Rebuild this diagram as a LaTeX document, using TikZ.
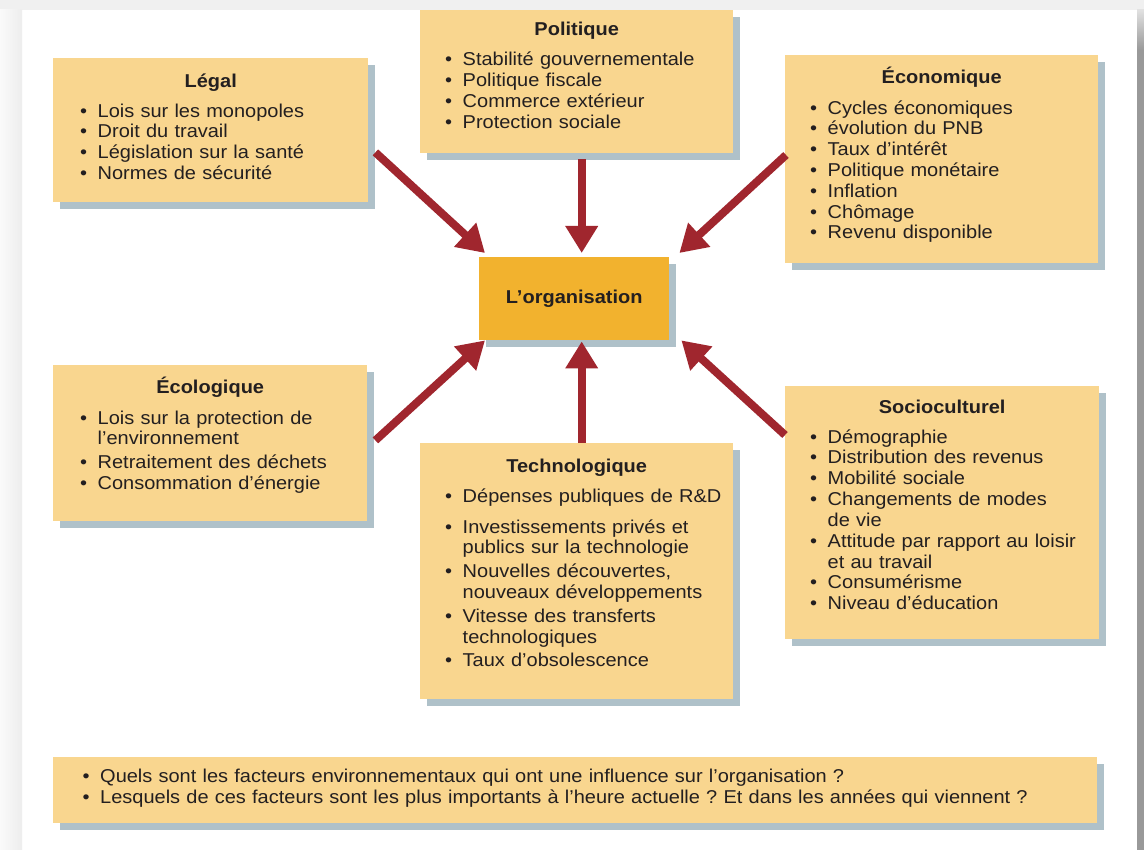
\documentclass[tikz,border=0pt]{standalone}
\usepackage{fontspec}
\setmainfont{Liberation Sans}[FakeStretch=1.075]
\usetikzlibrary{arrows.meta,calc,shadows}
\frenchspacing
\definecolor{boxc}{HTML}{F9D68F}
\definecolor{orgc}{HTML}{F2B22E}
\definecolor{shadc}{HTML}{AFC1C9}
\definecolor{arrc}{HTML}{A0262E}
\definecolor{txtc}{HTML}{231F20}
\newlength\itmind
\newcommand\itm[2][0pt]{\ifdim#1>0pt\vspace{#1}\fi{\leftskip=\itmind\relax\parindent=0pt\noindent\llap{\textbullet\hspace{10.5pt}}#2\par}}
\newcommand\ttl[1]{{\centering\bfseries #1\par}}
\tikzset{
  facbox/.style={anchor=north west, inner sep=0pt, fill=boxc, text=txtc,
    font=\fontsize{18.6}{20.8}\selectfont\frenchspacing,
    drop shadow={shadow xshift=7pt, shadow yshift=-7pt, fill=shadc, opacity=1}},
  orgbox/.style={anchor=north west, inner sep=0pt, fill=orgc, text=txtc,
    minimum width=190pt, minimum height=83pt,
    font=\fontsize{18.6}{20.8}\selectfont\bfseries,
    drop shadow={shadow xshift=7pt, shadow yshift=-7pt, fill=shadc, opacity=1}},
  arr/.style={draw=arrc, line width=8pt, -{Triangle[length=27pt, width=31pt]}}
}
\begin{document}
\begin{tikzpicture}[x=1pt,y=-1pt]
\useasboundingbox (0,0) rectangle (1144,850);
\fill[white] (0,0) rectangle (1144,850);
\fill[black!6] (0,0) rectangle (1144,10);
\shade[left color=black!2, right color=black!7] (0,10) rectangle (22,850);
\shade[top color=black!12, bottom color=black!40] (1137,10) rectangle (1144,50);
\fill[black!40] (1137,50) rectangle (1144,850);

\node[facbox, text width=315pt, text height=29.5pt, text depth=114.5pt] (legal) at (53,58)
  {\setlength\itmind{44.5pt}\ttl{Légal}%
   \itm[8.7pt]{Lois sur les monopoles}\itm{Droit du travail}%
   \itm{Législation sur la santé}\itm{Normes de sécurité}};

\node[facbox, text width=313pt, text height=25pt, text depth=118pt] (pol) at (420,10)
  {\setlength\itmind{42.5pt}\ttl{Politique}%
   \itm[9.9pt]{Stabilité gouvernementale}\itm{Politique fiscale}%
   \itm{Commerce extérieur}\itm{Protection sociale}};

\node[facbox, text width=313pt, text height=28.3pt, text depth=179.7pt] (eco) at (785,55)
  {\setlength\itmind{42.5pt}\ttl{Économique}%
   \itm[9.9pt]{Cycles économiques}\itm{évolution du PNB}%
   \itm{Taux d’intérêt}\itm{Politique monétaire}\itm{Inflation}%
   \itm{Chômage}\itm{Revenu disponible}};

\node[orgbox] (org) at (479,257) {L’organisation};

\node[facbox, text width=314pt, text height=28.3pt, text depth=127.7pt] (ecol) at (53,365)
  {\setlength\itmind{44.5pt}\ttl{Écologique}%
   \itm[9.9pt]{Lois sur la protection de\newline l’environnement}%
   \itm[2.6pt]{Retraitement des déchets}\itm[0.8pt]{Consommation d’énergie}};

\node[facbox, text width=313pt, text height=29.7pt, text depth=226.3pt] (tech) at (420,443)
  {\setlength\itmind{42.5pt}\ttl{Technologique}%
   \itm[9.2pt]{Dépenses publiques de R\&D}%
   \itm[9.5pt]{Investissements privés et\newline publics sur la technologie}%
   \itm[3pt]{Nouvelles découvertes,\newline nouveaux développements}%
   \itm[3pt]{Vitesse des transferts\newline technologiques}%
   \itm[2.5pt]{Taux d’obsolescence}};

\node[facbox, text width=314pt, text height=27pt, text depth=226pt] (socio) at (785,386)
  {\setlength\itmind{42.5pt}\ttl{Socioculturel}%
   \itm[9.2pt]{Démographie}\itm{Distribution des revenus}%
   \itm{Mobilité sociale}\itm{Changements de modes\newline de vie}%
   \itm{Attitude par rapport au loisir\newline et au travail}%
   \itm{Consumérisme}\itm{Niveau d’éducation}};

\node[facbox, text width=1044pt, text height=25pt, text depth=41pt] (quest) at (53,757)
  {\setlength\itmind{47pt}%
   \itm{Quels sont les facteurs environnementaux qui ont une influence sur l’organisation ?}%
   \itm{Lesquels de ces facteurs sont les plus importants à l’heure actuelle ? Et dans les années qui viennent ?}};

\draw[arr] ($(legal.south east)+(7,-50)$) -- ($(org.north west)+(6,-4)$);
\draw[arr] ($(pol.south)+(5,6)$) -- ($(org.north)+(7.5,-4)$);
\draw[arr] ($(eco.north west)+(1,100)$) -- ($(org.north east)+(10,-4)$);
\draw[arr] ($(ecol.south east)+(8,-81)$) -- ($(org.south west)+(6,0)$);
\draw[arr] ($(tech.north)+(5,0)$) -- ($(org.south)+(7.5,1)$);
\draw[arr] ($(socio.north west)+(0,49)$) -- ($(org.south east)+(12,0)$);
\end{tikzpicture}
\end{document}
